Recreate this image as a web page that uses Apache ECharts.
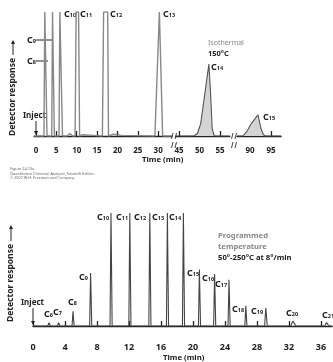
<!DOCTYPE html>
<html>
<head>
<meta charset="utf-8">
<script src="https://cdn.jsdelivr.net/npm/echarts@6/dist/echarts.min.js"></script>
<style>
  html, body { margin: 0; padding: 0; background: #fff; }
  #chart { width: 333px; height: 362px; }
</style>
</head>
<body>
<div id="chart"></div>
<script>
// top chromatogram (isothermal), vertices [time min, response], 100 = off scale
const topTraceA = [[-0.5,0],[1.95,0],[2.15,100],[2.45,100],[2.7,0],[3.85,0],[4.05,100],[4.3,100],[4.5,0],
  [5.65,0],[5.85,100],[6.3,100],[6.5,0],[7.6,0],[8.3,2],[9.0,0],[9.6,0],[9.85,100],[10.45,100],[10.7,0],
  [11.5,1],[14,0.5],[16.3,0],[16.6,100],[17.6,100],[17.8,0],[19,1.5],[21,0.5],[29.2,0],[30.3,100],
  [30.7,100],[31.1,0],[33.4,0]];
const topTraceB = [[44.2,0],[48.7,0],[49.5,2],[50.3,10],[52.3,58],[52.7,35],[53.1,6],[53.6,0],[57.4,0]];
const topTraceC = [[86.9,0],[88.3,0],[89.3,4],[90.3,10],[91.9,17],[92.6,6],[93.2,1],[93.8,0],[97.4,0]];
const topTicksA = [0, 5, 10, 15, 20, 25, 30];
const topTicksB = [45, 50, 55];
const topTicksC = [90, 95];

// bottom chromatogram (programmed), peaks C6..C21
const botNames = [6, 7, 8, 9, 10, 11, 12, 13, 14, 15, 16, 17, 18, 19, 20, 21];
const botTimes = [2.0, 3.2, 5.0, 7.2, 9.75, 12.1, 14.6, 16.8, 18.8, 20.8, 22.7, 24.5, 26.6, 29.1, 32.5, 36.7];
const botHeights = [3, 3, 13, 47, 100, 100, 100, 100, 100, 50, 46, 41, 18, 16, 4.5, 3];
const botWidths = [0.15, 0.15, 0.12, 0.12, 0.12, 0.12, 0.12, 0.12, 0.12, 0.12, 0.12, 0.12, 0.12, 0.15, 0.3, 0.25];
const botTicks = [0, 4, 8, 12, 16, 20, 24, 28, 32, 36];

const botTrace = [[0, 0]];
botTimes.forEach((t, i) => {
  botTrace.push([t - botWidths[i], 0], [t, botHeights[i]], [t + botWidths[i] * 1.2, 0]);
});
botTrace.push([37.4, 0]);

const FONT = 'Noto Sans';
const DARK = '#222';

const myChart = echarts.init(document.getElementById('chart'), null, { renderer: 'canvas' });

function xAx(gi, min, max, ticks, offset, size) {
  return {
    type: 'value', gridIndex: gi, min: min, max: max, offset: offset,
    axisLine: { show: true, lineStyle: { color: DARK, width: 1.3 } },
    axisTick: { show: true, inside: true, length: 5, customValues: ticks, lineStyle: { color: DARK, width: 1.3 } },
    axisLabel: { customValues: ticks, color: DARK, fontSize: size, fontWeight: 'bold', fontFamily: FONT, margin: 2 },
    splitLine: { show: false }
  };
}
function yAx(gi) {
  return { type: 'value', gridIndex: gi, min: 0, max: 100, show: false };
}
function trace(i, data, color, width, area) {
  return {
    type: 'line', xAxisIndex: i, yAxisIndex: i, data: data, symbol: 'none', silent: true,
    lineStyle: { color: color, width: width },
    areaStyle: area ? { color: '#d4d4d4', opacity: 1 } : null,
    z: 3
  };
}

// rich C_n label, x = left edge, y = middle
function cLabel(x, y, n) {
  return {
    type: 'text', x: x, y: y,
    style: {
      text: '{c|C}{s|' + n + '}', verticalAlign: 'middle', align: 'left',
      rich: {
        c: { fontSize: 9, fontWeight: 'bold', fontFamily: FONT, fill: DARK, padding: [0, 0, 2, 0] },
        s: { fontSize: 5.5, fontWeight: 'bold', fontFamily: FONT, fill: DARK }
      }
    }
  };
}
function txt(x, y, s, size, color, weight) {
  return {
    type: 'text', x: x, y: y,
    style: { text: s, fontSize: size, fill: color, fontWeight: weight, fontFamily: FONT, verticalAlign: 'middle', align: 'left' }
  };
}
function vtxt(x, y, s) {
  return { type: 'text', x: x, y: y, rotation: Math.PI / 2,
    style: { text: s, fontSize: 8.5, fill: DARK, fontWeight: 'bold', fontFamily: FONT, align: 'center', verticalAlign: 'middle' } };
}
function line(pts, w, color) {
  return { type: 'polyline', shape: { points: pts }, style: { stroke: color || DARK, lineWidth: w || 1, fill: null } };
}
function arrowDown(x, y1, y2) {
  return [line([[x, y1], [x, y2 - 3]], 1), { type: 'polygon', shape: { points: [[x - 2, y2 - 4], [x + 2, y2 - 4], [x, y2]] }, style: { fill: DARK } }];
}
function arrowUp(x, y1, y2) {
  return [line([[x, y1], [x, y2 + 3]], 1), { type: 'polygon', shape: { points: [[x - 2, y2 + 4], [x + 2, y2 + 4], [x, y2]] }, style: { fill: DARK } }];
}
function brk(x, y) {
  return [line([[x - 2.5, y + 3], [x - 1, y - 3]], 1, '#444'), line([[x + 1, y + 3], [x + 2.5, y - 3]], 1, '#444')];
}

const graphics = [].concat(
  // top chart
  vtxt(13, 97, 'Detector response'),
  arrowUp(13, 55, 40),
  txt(23, 116, 'Inject', 8, DARK, 'bold'),
  arrowDown(36, 121, 135),
  cLabel(27, 41, 9), line([[36, 40], [53, 40]], 1),
  cLabel(27, 62, 8), line([[36, 61], [48, 61]], 1),
  cLabel(64, 15, 10), cLabel(80, 15, 11), cLabel(110, 15, 12), cLabel(163, 15, 13),
  cLabel(211, 68, 14), cLabel(263, 118, 15),
  txt(208, 43, 'Isothermal', 7, '#888', 'normal'),
  txt(208, 54, '150°C', 7.5, DARK, 'bold'),
  txt(142, 160, 'Time (min)', 7.8, DARK, 'bold'),
  brk(174, 136), brk(174, 145), brk(234, 136), brk(234, 145),
  txt(10, 169, 'Figure 24-10a', 3.8, '#666', 'normal'),
  txt(10, 173.5, 'Quantitative Chemical Analysis, Seventh Edition', 3.8, '#666', 'normal'),
  txt(10, 178, '© 2007 W.H. Freeman and Company', 3.8, '#666', 'normal'),
  // bottom chart
  vtxt(11, 283, 'Detector response'),
  arrowUp(11, 241, 225),
  txt(21, 303, 'Inject', 8, DARK, 'bold'),
  arrowDown(33, 308, 325),
  cLabel(44, 315, 6), cLabel(53, 313, 7), cLabel(68, 303, 8), cLabel(79, 278, 9),
  cLabel(97, 218, 10), cLabel(116, 218, 11), cLabel(134, 218, 12), cLabel(152, 218, 13), cLabel(169, 218, 14),
  cLabel(187, 274, 15), cLabel(202, 279, 16), cLabel(215, 285, 17), cLabel(232, 310, 18), cLabel(251, 312, 19),
  cLabel(286, 314, 20), cLabel(322, 316, 21),
  txt(218, 236, 'Programmed', 7.7, '#888', 'bold'),
  txt(218, 247, 'temperature', 7.7, '#888', 'bold'),
  txt(218, 258, '50°-250°C at 8°/min', 7.7, DARK, 'bold'),
  txt(163, 358, 'Time (min)', 7.8, DARK, 'bold')
);

const option = {
  animation: false,
  backgroundColor: '#fff',
  grid: [
    { left: 34, top: 12, width: 138, height: 124 },
    { left: 175.7, top: 12, width: 54.1, height: 124 },
    { left: 237, top: 12, width: 44.1, height: 124 },
    { left: 33, top: 213, width: 299.2, height: 113 }
  ],
  xAxis: [
    xAx(0, -0.5, 33.4, topTicksA, 9, 8),
    xAx(1, 44.2, 57.4, topTicksB, 9, 8),
    xAx(2, 86.9, 97.4, topTicksC, 9, 8),
    xAx(3, 0, 37.4, botTicks, 15, 9)
  ],
  yAxis: [yAx(0), yAx(1), yAx(2), yAx(3)],
  series: [
    trace(0, topTraceA, '#888', 1.4, false),
    trace(1, topTraceB, '#555', 1.1, true),
    trace(2, topTraceC, '#555', 1.1, true),
    trace(3, botTrace, '#444', 1.1, false)
  ],
  graphic: graphics
};

myChart.setOption(option);
window.addEventListener('resize', myChart.resize);
</script>
</body>
</html>
